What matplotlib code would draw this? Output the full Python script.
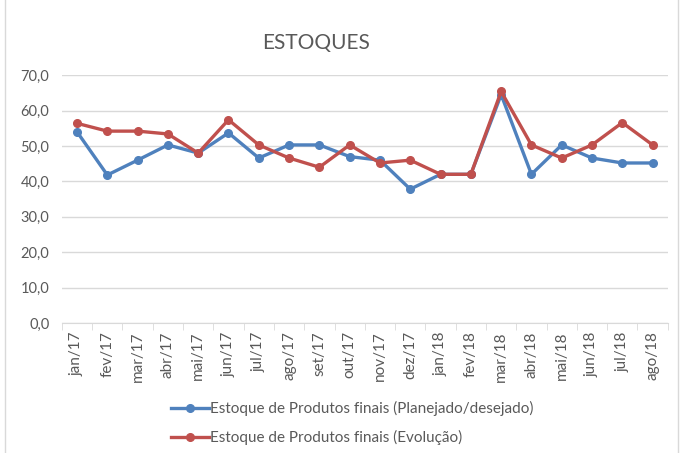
import matplotlib.pyplot as plt
from matplotlib.ticker import FuncFormatter, FixedLocator

plt.rcParams['font.family'] = ['Lato', 'DejaVu Sans']

meses = ['jan/17', 'fev/17', 'mar/17', 'abr/17', 'mai/17', 'jun/17', 'jul/17',
         'ago/17', 'set/17', 'out/17', 'nov/17', 'dez/17', 'jan/18', 'fev/18',
         'mar/18', 'abr/18', 'mai/18', 'jun/18', 'jul/18', 'ago/18']
planejado = [54.0, 41.8, 46.0, 50.3, 48.0, 53.7, 46.6, 50.3, 50.3, 47.0,
             46.0, 37.8, 42.0, 42.0, 64.5, 42.0, 50.3, 46.6, 45.2, 45.2]
evolucao = [56.4, 54.2, 54.2, 53.4, 48.0, 57.4, 50.3, 46.6, 44.0, 50.3,
            45.2, 46.0, 42.0, 42.0, 65.4, 50.3, 46.6, 50.3, 56.6, 50.3]

cinza = '#595959'
fig = plt.figure(figsize=(6.8, 4.53), dpi=100)
ax = fig.add_axes([0.091, 0.287, 0.891, 0.547])

x = range(len(meses))
ax.plot(x, planejado, color='#4F81BD', lw=2.4, marker='o', ms=5.5,
        label='Estoque de Produtos finais (Planejado/desejado)')
ax.plot(x, evolucao, color='#C0504D', lw=2.4, marker='o', ms=5.5,
        label='Estoque de Produtos finais (Evolução)')

ax.set_xlim(-0.5, len(meses) - 0.5)
ax.set_ylim(0, 70)
ax.set_yticks(range(0, 71, 10))
ax.yaxis.set_major_formatter(FuncFormatter(lambda v, p: f'{v:.1f}'.replace('.', ',')))
ax.set_xticks(list(x))
ax.set_xticklabels(meses, rotation=90)
ax.xaxis.set_minor_locator(FixedLocator([i - 0.5 for i in range(len(meses) + 1)]))
ax.tick_params(axis='x', which='major', length=0, pad=6, labelsize=11, labelcolor=cinza)
ax.tick_params(axis='x', which='minor', length=5, color='#d9d9d9')
ax.tick_params(axis='y', length=0, labelsize=10.5, labelcolor=cinza, pad=9)
ax.grid(axis='y', color='#d9d9d9', lw=1)
ax.set_axisbelow(True)
for s in ['top', 'right', 'left']:
    ax.spines[s].set_visible(False)
ax.spines['bottom'].set_color('#d9d9d9')

fig.text(0.465, 0.905, 'ESTOQUES', ha='center', va='center', fontsize=15, color=cinza)

fig.legend(loc='center', bbox_to_anchor=(0.518, 0.066), ncol=1, frameon=False,
           fontsize=11, labelcolor=cinza, handlelength=2.5, labelspacing=0.9,
           handletextpad=0.1)

# borda do gráfico
fig.patches.append(plt.Rectangle((0.007, -0.01), 0.99, 1.02, transform=fig.transFigure,
                                 fill=False, edgecolor='#d9d9d9', lw=1))

fig.savefig('out.png', dpi=100)
